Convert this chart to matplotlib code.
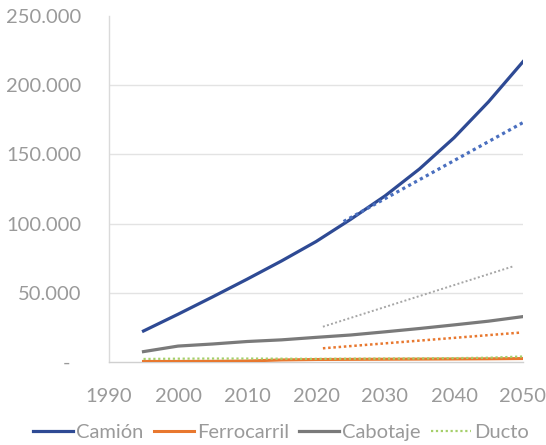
import matplotlib
matplotlib.use("Agg")
import matplotlib.pyplot as plt

# toneladas por modo de transporte, 1995-2050
years = [1995, 2000, 2005, 2010, 2015, 2020, 2025, 2030, 2035, 2040, 2045, 2050]
camion = [22400, 34500, 47000, 59800, 73000, 87000, 103000, 120000, 139500, 162000, 188000, 217000]
ferrocarril = [400, 400, 500, 700, 1500, 1800, 1900, 2000, 2100, 2200, 2300, 2500]
cabotaje = [7500, 11500, 13000, 14800, 16000, 17800, 19500, 21800, 24200, 26800, 29500, 32800]
ducto = [2200, 2400, 2500, 2500, 2400, 2300, 2400, 2500, 2600, 2800, 3100, 4000]

# tendencias lineales
camion_trend_x = [2024, 2050]
camion_trend_y = [101500, 173000]
cabotaje_trend_x = [2021, 2048.5]
cabotaje_trend_y = [25500, 69000]
ferro_trend_x = [2021, 2049.5]
ferro_trend_y = [9900, 21200]

y_ticks = [0, 50000, 100000, 150000, 200000, 250000]
x_ticks = [1990, 2000, 2010, 2020, 2030, 2040, 2050]

text_gray = '#9a9a9a'
plt.rcParams['font.family'] = ['Lato', 'DejaVu Sans']

fig = plt.figure(figsize=(5.46, 4.45), dpi=100)
ax = fig.add_axes([109/546, 1 - 362/445, 414/546, 346/445])

for yv in y_ticks[1:-1]:
    ax.axhline(yv, color='#e3e3e3', lw=1, zorder=0)

ax.plot(cabotaje_trend_x, cabotaje_trend_y, color='#a6a6a6', lw=1.4,
        linestyle=(0, (1, 1.2)), zorder=2)
ax.plot(ferro_trend_x, ferro_trend_y, color='#e8782f', lw=1.8,
        linestyle=(0, (1, 1.1)), zorder=2)

ax.plot(years, camion, color='#2e4a94', lw=2.3, label='Camión', zorder=3,
        solid_joinstyle='round')
ax.plot(years, ferrocarril, color='#e8782f', lw=2.2, label='Ferrocarril', zorder=3)
ax.plot(years, cabotaje, color='#7a7a7a', lw=2.3, label='Cabotaje', zorder=3,
        solid_joinstyle='round')
ax.plot(years, ducto, color='#a5cf6a', lw=1.6, linestyle=(0, (1, 1.2)),
        label='Ducto', zorder=4)
ax.plot(camion_trend_x, camion_trend_y, color='#4a6fbf', lw=2.3,
        linestyle=(0, (1, 1.1)), zorder=4)

ax.set_xlim(1990, 2050)
ax.set_ylim(0, 250000)
ax.set_xticks(x_ticks)
ax.set_yticks(y_ticks)
ax.set_yticklabels(['-  '] + [f'{v:,}'.replace(',', '.') for v in y_ticks[1:]])
ax.tick_params(axis='both', length=0, labelsize=14.5, labelcolor=text_gray)
ax.tick_params(axis='y', pad=20)
ax.tick_params(axis='x', pad=19)

for side in ['top', 'right']:
    ax.spines[side].set_visible(False)
ax.spines['left'].set_color('#dadada')
ax.spines['bottom'].set_color('#d0d0d0')
ax.spines['left'].set_linewidth(1)
ax.spines['bottom'].set_linewidth(1)

leg = fig.legend(loc='center', bbox_to_anchor=(281/546, 1 - 432/445), ncol=4,
                 frameon=False, fontsize=14.5, handlelength=2.0,
                 handletextpad=0.15, columnspacing=0.5, borderaxespad=0)
for t in leg.get_texts():
    t.set_color(text_gray)

fig.savefig('out.png', dpi=100)
